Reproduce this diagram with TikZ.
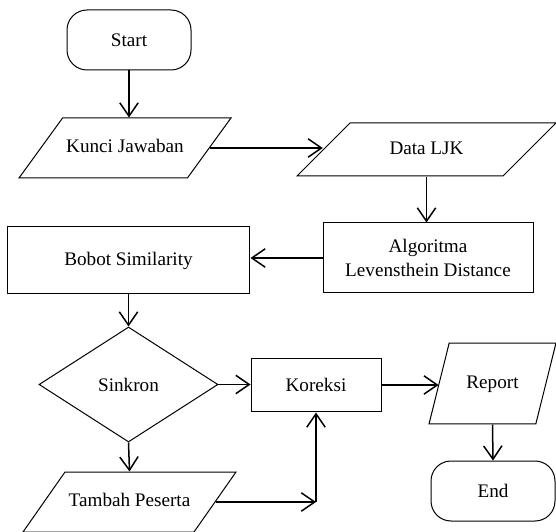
\documentclass[tikz,border=0pt]{standalone}
\usepackage{fontspec}
\setmainfont{Liberation Serif}
\usetikzlibrary{shapes.geometric,arrows.meta}

\tikzset{
  base/.style={draw, line width=0.6pt, inner sep=0pt, align=center,
    font=\fontsize{11.5}{14}\selectfont},
  terminal/.style={base, rectangle, rounded corners=12pt,
    minimum width=74.4pt, minimum height=36pt},
  process/.style={base, rectangle},
  io/.style={base, trapezium, trapezium stretches body=true,
    text height=8pt, text depth=2.5pt, inner ysep=#1},
  decision/.style={base, diamond, minimum width=107.4pt, minimum height=69pt},
  arr/.style={line width=0.9pt, -{Straight Barb[length=8pt,width=11pt]}},
}

\begin{document}
\begin{tikzpicture}[x=0.6pt, y=-0.6pt]
  \useasboundingbox (0,0) rectangle (556,532);

  % nodes
  \node[terminal] (start) at (129,40) {Start};
  \node[io=12.75pt, trapezium left angle=54, trapezium right angle=126,
        minimum width=127.2pt] (kunci) at (125,148) {Kunci Jawaban};
  \node[io=10.65pt, trapezium left angle=45, trapezium right angle=135,
        minimum width=155.4pt] (data) at (426.5,149.5) {Data LJK};
  \node[process, minimum width=126pt, minimum height=42pt] (algo) at (428,258)
        {Algoritma\\Levensthein Distance};
  \node[process, minimum width=145.8pt, minimum height=40.2pt] (bobot) at (128.5,260.5)
        {Bobot Similarity};
  \node[decision] (sinkron) at (128.5,384.5) {Sinkron};
  \node[process, minimum width=78pt, minimum height=32.4pt] (koreksi) at (316,385) {Koreksi};
  \node[io=19.05pt, trapezium left angle=76, trapezium right angle=104,
        minimum width=76.2pt] (report) at (492.5,383.5) {Report};
  \node[terminal] (end) at (493,491) {End};
  \node[io=12.75pt, trapezium left angle=55, trapezium right angle=125,
        minimum width=127.8pt] (tambah) at (129.5,502) {Tambah Peserta};
  \coordinate (turn) at (tambah.east -| koreksi.south);

  % connectors
  \draw[arr] (start.south) -- (start.south |- kunci.north);
  \draw[arr] (kunci.east) -- (kunci.east -| data.west);
  \draw[arr] (data.south) -- (data.south |- algo.north);
  \draw[arr] (algo.west) -- (algo.west -| bobot.east);
  \draw[arr] (bobot.south) -- (sinkron.north);
  \draw[arr] (sinkron.east) -- (sinkron.east -| koreksi.west);
  \draw[arr] (koreksi.east) -- (koreksi.east -| report.west);
  \draw[arr] (report.south) -- (end.north);
  \draw[arr] (sinkron.south) -- (tambah.north);
  \draw[arr] (tambah.east) -- (turn);
  \draw[arr] (turn) -- (koreksi.south);
\end{tikzpicture}
\end{document}
